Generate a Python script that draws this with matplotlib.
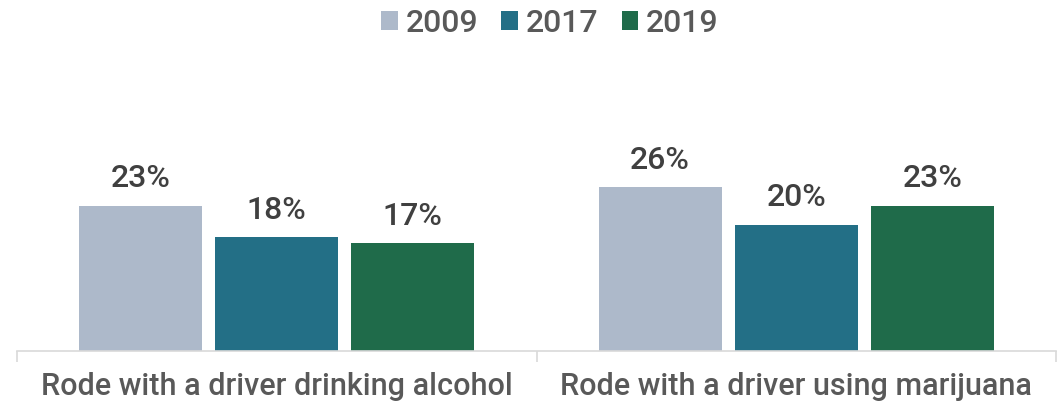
import matplotlib
matplotlib.use("Agg")
import matplotlib.pyplot as plt
import numpy as np

categories = ["Rode with a driver drinking alcohol", "Rode with a driver using marijuana"]
years = ["2009", "2017", "2019"]
values_2009 = [23, 26]
values_2017 = [18, 20]
values_2019 = [17, 23]
series = [values_2009, values_2017, values_2019]
colors = ["#ADB9CA", "#236F86", "#1F6B4A"]

plt.rcParams['font.family'] = ['Roboto', 'DejaVu Sans']
text_color = "#595959"

fig = plt.figure(figsize=(10.58, 4.04), dpi=100)
ax = fig.add_axes([17/1058, 53/404, (1056-17)/1058, (351-98)/404])

x = np.arange(len(categories))
width = 0.237
offset = 0.262
for i, (yr, vals, c) in enumerate(zip(years, series, colors)):
    pos = x + (i - 1) * offset
    ax.bar(pos, vals, width=width, color=c, label=yr, zorder=2)
    for p, v in zip(pos, vals):
        ax.text(p, v + 2.85, f"{v}%", ha="center", va="baseline", fontsize=23,
                fontweight="medium", color="#404040")

ax.set_xlim(-0.5, 1.5)
ax.set_ylim(0, 40)
for s in ["top", "right", "left"]:
    ax.spines[s].set_visible(False)
ax.spines["bottom"].set_color("#D9D9D9")
ax.spines["bottom"].set_linewidth(1.2)
ax.set_yticks([])
ax.set_xticks(x)
ax.set_xticklabels(categories, fontsize=22, color=text_color, fontweight="medium")
ax.tick_params(axis="x", which="major", direction="in", length=5, color="#D9D9D9",
               width=1.2, pad=15)
ax.set_xticks([-0.5, 0.5, 1.5], minor=True)
ax.tick_params(axis="x", which="minor", direction="out", length=8, color="#D9D9D9", width=1.2)

handles, labels = ax.get_legend_handles_labels()
leg = fig.legend(handles, labels, loc="upper center", bbox_to_anchor=(550/1058, 1.05), ncol=3,
                 frameon=False, handlelength=0.52, handleheight=0.52,
                 handletextpad=0.25, columnspacing=0.72, labelcolor=text_color,
                 prop={"size": 23, "weight": "medium"})

fig.savefig("out.png", dpi=100)
